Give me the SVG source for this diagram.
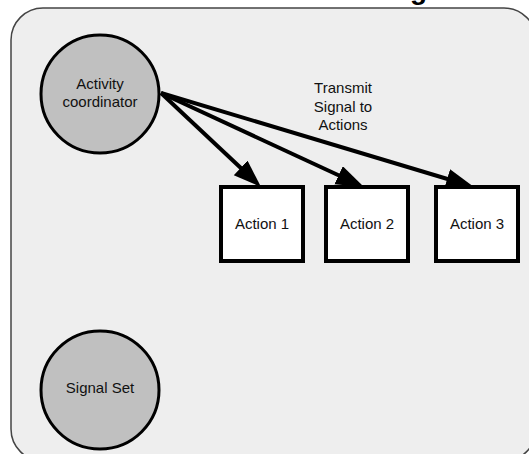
<svg xmlns="http://www.w3.org/2000/svg" width="529" height="454" viewBox="0 0 529 454">
  <style>
    .label { font-family: "Liberation Sans", Arial, sans-serif; font-size: 15px; fill: #111; text-anchor: middle; }
    .title { font-family: "Liberation Sans", Arial, sans-serif; font-size: 28px; font-weight: bold; fill: #000; }
    .state { fill: #c0c0c0; stroke: #000; stroke-width: 3; }
    .action { fill: #fff; stroke: #000; stroke-width: 4; }
    .flow { fill: none; stroke: #000; stroke-width: 4; }
  </style>
  <defs>
    <marker id="head" markerUnits="userSpaceOnUse" markerWidth="29" markerHeight="21" refX="16" refY="10" orient="auto" viewBox="0 0 29 21">
      <path d="M0,0 L28,10 L0,20 Z" fill="#000"/>
    </marker>
  </defs>

  <!-- clipped heading above the frame -->
  <text class="title" x="410" y="-1">g</text>

  <!-- activity frame -->
  <rect x="11" y="8" width="525" height="453" rx="32" ry="32" fill="#eeeeee" stroke="#444" stroke-width="1.5"/>

  <g id="connectors">
    <line class="flow" x1="161" y1="93" x2="252.3" y2="178.8" marker-end="url(#head)"/>
    <line class="flow" x1="161" y1="93" x2="353.1" y2="182.0" marker-end="url(#head)"/>
    <line class="flow" x1="161" y1="93" x2="462.5" y2="183.5" marker-end="url(#head)"/>
    <text class="label" x="343" y="93">Transmit</text>
    <text class="label" x="343" y="111.5">Signal to</text>
    <text class="label" x="343" y="130">Actions</text>
  </g>

  <g id="activity-coordinator">
    <circle class="state" cx="100" cy="94" r="59"/>
    <text class="label" x="100" y="89">Activity</text>
    <text class="label" x="100" y="107">coordinator</text>
  </g>

  <g id="signal-set">
    <circle class="state" cx="100" cy="390" r="59"/>
    <text class="label" x="100" y="393">Signal Set</text>
  </g>

  <g id="action-1">
    <rect class="action" x="221" y="187" width="82" height="74"/>
    <text class="label" x="262" y="229">Action 1</text>
  </g>

  <g id="action-2">
    <rect class="action" x="326" y="187" width="82" height="74"/>
    <text class="label" x="367" y="229">Action 2</text>
  </g>

  <g id="action-3">
    <rect class="action" x="436" y="187" width="82" height="74"/>
    <text class="label" x="477" y="229">Action 3</text>
  </g>
</svg>
